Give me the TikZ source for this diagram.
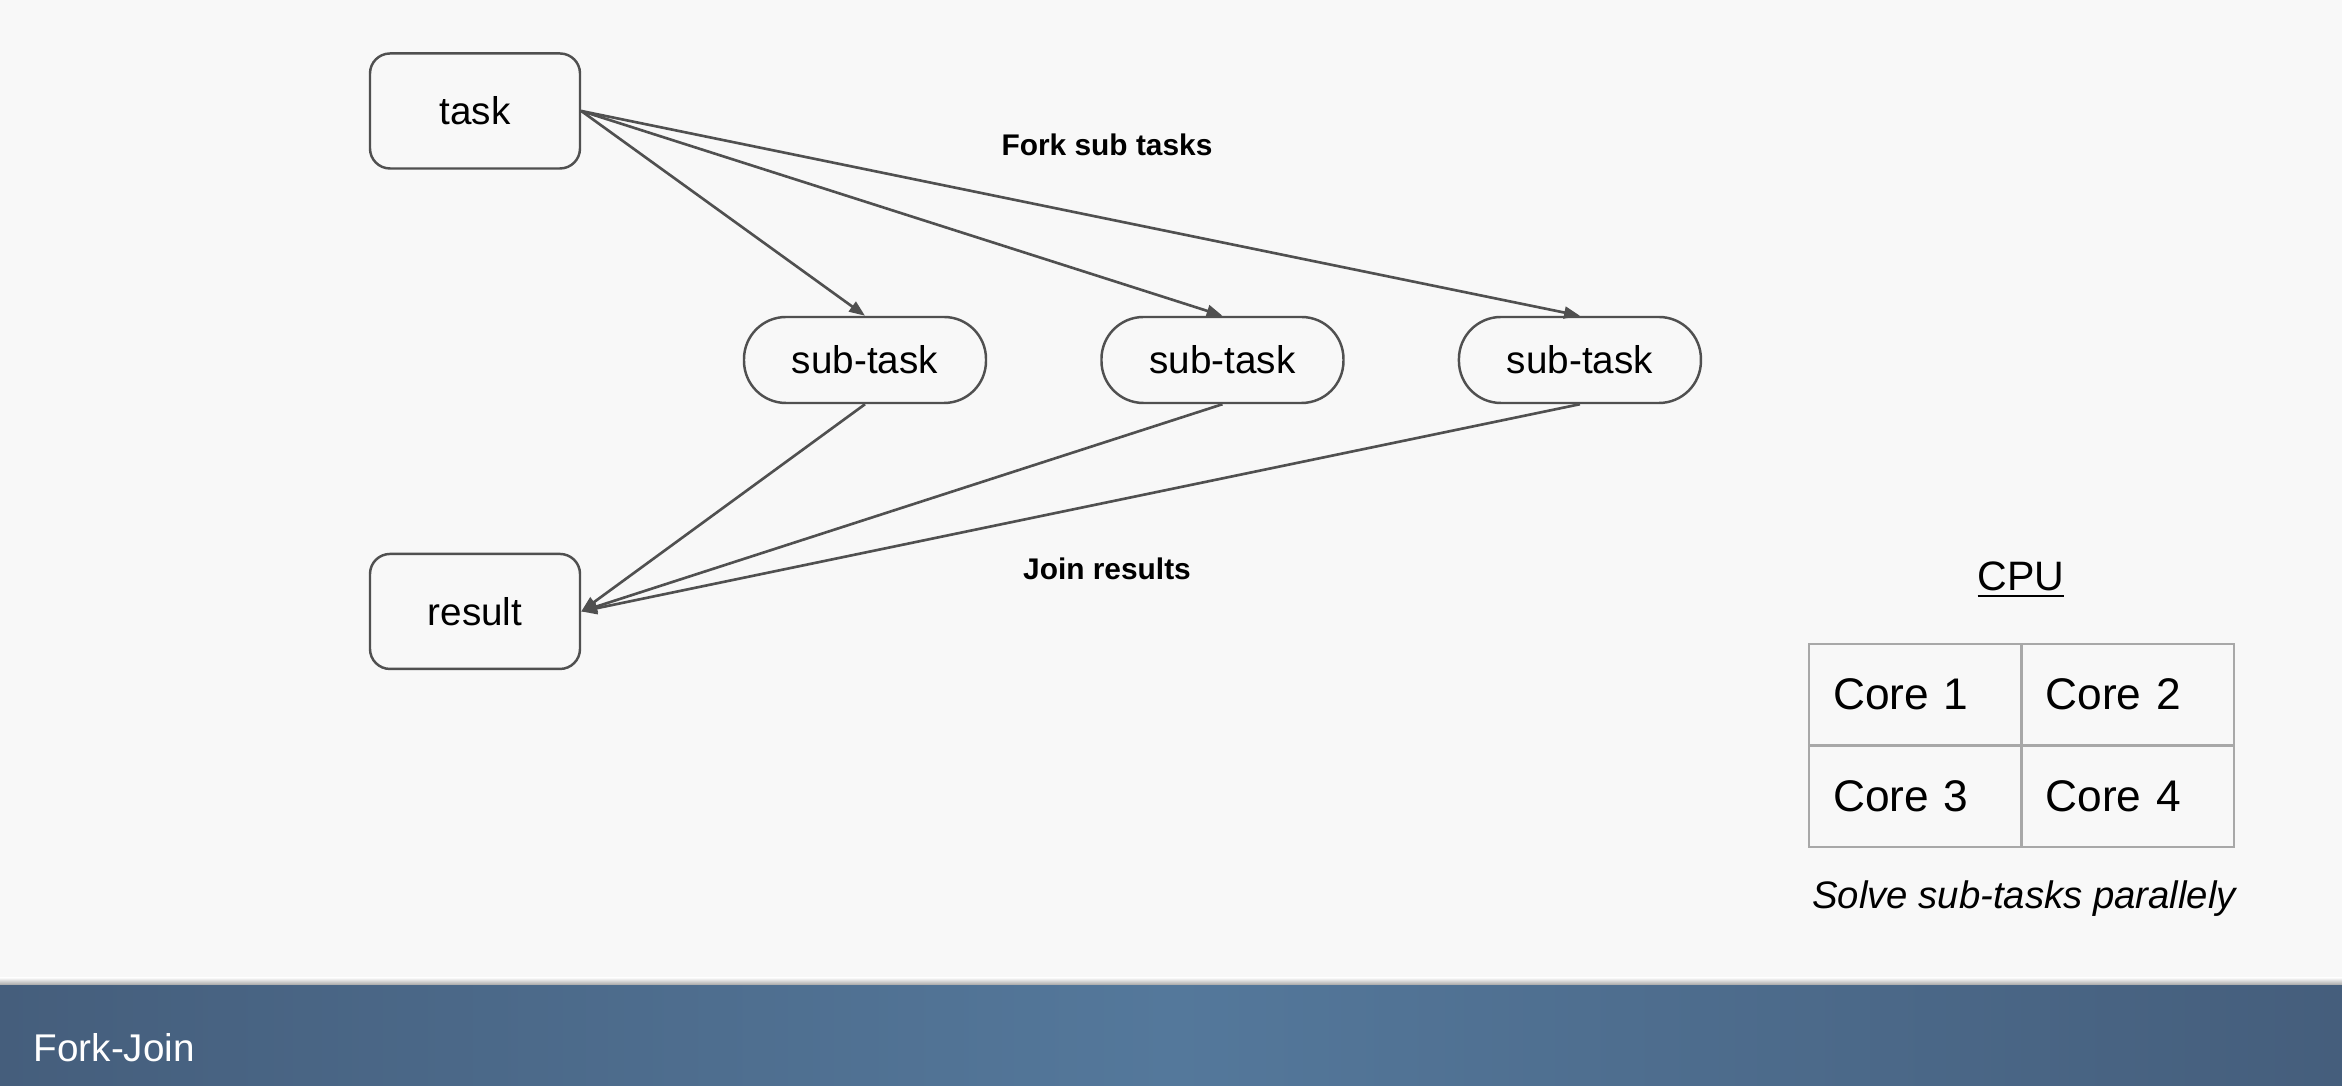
\documentclass[tikz,border=0pt]{standalone}
\usepackage{fontspec}
\setmainfont{Liberation Sans}
\usetikzlibrary{arrows.meta,positioning}
\definecolor{bgcol}{HTML}{F8F8F8}
\definecolor{linecol}{HTML}{505050}
\definecolor{gridcol}{HTML}{A8A8A8}
\definecolor{bardark}{HTML}{455E7C}
\definecolor{barlight}{HTML}{54789B}
\tikzset{
  taskbox/.style={draw=linecol, line width=0.7pt, rounded corners=0.2cm, minimum width=2.1cm, minimum height=1.15cm, font=\fontsize{11}{13}\selectfont},
  subbox/.style={draw=linecol, line width=0.7pt, rounded corners=0.42cm, minimum width=2.42cm, minimum height=0.86cm, font=\fontsize{11}{13}\selectfont},
  flow/.style={draw=linecol, line width=0.75pt, -{Triangle[length=4.5pt,width=3.4pt]}},
  corecell/.style={draw=gridcol, line width=0.6pt, outer sep=0pt, inner xsep=0.24cm, text width=1.645cm, align=left, minimum height=1.015cm, font=\fontsize{12.6}{14}\selectfont},
  steplabel/.style={font=\bfseries\fontsize{8.5}{10}\selectfont}
}
\begin{document}
\begin{tikzpicture}
\fill[bgcol] (0,0) rectangle (23.42,10.86);
\useasboundingbox (0,0) rectangle (23.42,10.86);

% nodes
\node[taskbox] (task) at (4.75,9.75) {task};
\node[taskbox, below=3.83cm of task] (res) {result};
\node[subbox] (sub1) at (8.65,7.26) {sub-task};
\node[subbox, right=1.13cm of sub1] (sub2) {sub-task};
\node[subbox, right=1.13cm of sub2] (sub3) {sub-task};

\node[steplabel] (fork) at (11.07,9.41) {Fork sub tasks};
\node[steplabel] (join) at (11.07,5.17) {Join results};

\foreach \s in {sub1,sub2,sub3} {
  \draw[flow] (task.east) -- (\s.north);
  \draw[flow] (\s.south) -- (res.east);
}

% cpu
\node[font=\fontsize{11.7}{14}\selectfont] (cpu) at (20.21,5.06) {\underline{CPU}};
\node[corecell] (c1) at (19.1525,3.9125) {Core 1};
\node[corecell, right=0pt of c1] (c2) {Core 2};
\node[corecell, below=0pt of c1] (c3) {Core 3};
\node[corecell, right=0pt of c3] (c4) {Core 4};
\node[font=\itshape\fontsize{10.9}{13}\selectfont] (solve) at (20.24,1.87) {Solve sub-tasks parallely};

% bottom bar
\shade[top color=bgcol, bottom color=black!40] (0,1.0) rectangle (23.42,1.08);
\shade[left color=bardark, right color=bardark, middle color=barlight] (0,0) rectangle (23.42,1.0);
\node[anchor=west, inner sep=0pt, text=white, font=\fontsize{11}{13}\selectfont] (title) at (0.33,0.38) {Fork-Join};
\end{tikzpicture}
\end{document}
